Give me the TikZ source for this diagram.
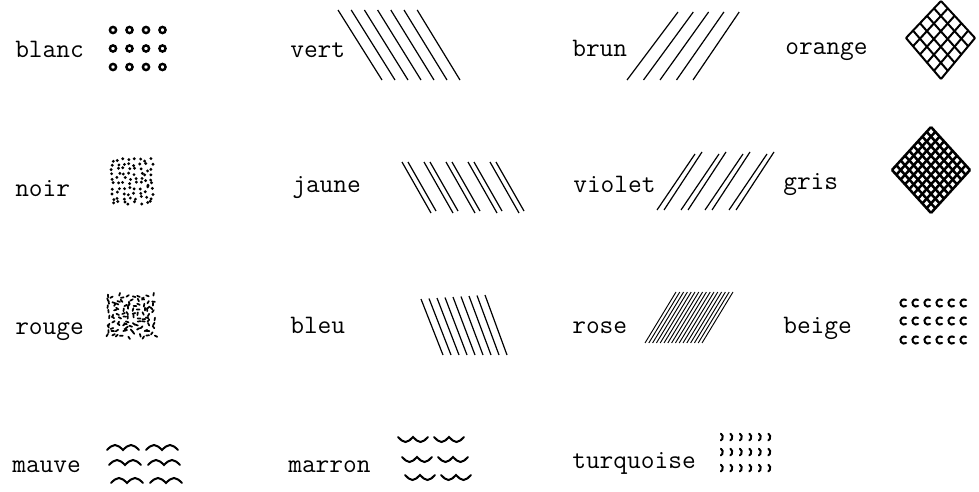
\documentclass[tikz,border=0pt]{standalone}
\usepackage{fontspec}
\usetikzlibrary{calc}

\begin{document}
\begin{tikzpicture}[x=0.75pt,y=-0.75pt,
  lbl/.style={font=\ttfamily\fontsize{20}{24}\selectfont,inner sep=0pt,anchor=base west},
  hatch/.style={line width=0.9pt},
  finehatch/.style={line width=0.7pt},
  mesh/.style={line width=1.5pt},
  glyph/.style={line width=1.5pt,line cap=round},
  blob/.style={line width=1.3pt,line cap=round},
  dotring/.style={line width=1.8pt}]
\useasboundingbox (0,0) rectangle (979,492);
% labels
\node[lbl] (blanc) at (15,58) {blanc};
\node[lbl] (vert) at (290,58) {vert};
\node[lbl] (brun) at (572,57) {brun};
\node[lbl] (orange) at (785,55) {orange};
\node[lbl] (noir) at (15,196) {noir};
\node[lbl] (jaune) at (292,192) {jaune};
\node[lbl] (violet) at (573,192) {violet};
\node[lbl] (gris) at (783,190) {gris};
\node[lbl] (rouge) at (15,334) {rouge};
\node[lbl] (bleu) at (290,333) {bleu};
\node[lbl] (rose) at (572,333) {rose};
\node[lbl] (beige) at (783,333) {beige};
\node[lbl] (mauve) at (12,472) {mauve};
\node[lbl] (marron) at (288,472) {marron};
\node[lbl] (turquoise) at (572,468) {turquoise};
% blanc
\foreach \c in {0,...,3}
  \foreach \r in {0,1,2}
    \draw[dotring] (113+\c*16.5,30+\r*18.5) circle (3.1);
% vert
\foreach \i in {0,...,6} \draw[hatch] (338+\i*13.2,10) -- (382+\i*13,80);
% brun
\foreach \i in {0,...,4} \draw[hatch] (627+\i*16.5,80) -- (678+\i*15.3,12);
% orange
\coordinate (oT) at (941,1); \coordinate (oR) at (975,38);
\coordinate (oB) at (941,79); \coordinate (oL) at (906,38);
\foreach \k in {0,...,5}{
  \draw[mesh] ($(oL)!\k/5!(oB)$) -- ($(oT)!\k/5!(oR)$);
  \draw[mesh] ($(oL)!\k/5!(oT)$) -- ($(oB)!\k/5!(oR)$);
}
% noir
\pgfmathsetseed{11}
\foreach \c in {0,...,7}
  \foreach \r in {0,...,9}{
    \pgfmathsetmacro\px{111+\c*5.6+3.5*rnd}
    \pgfmathsetmacro\py{158+\r*4.8+3.5*rnd}
    \fill (\px,\py) circle (1.6);
  }
% jaune
\foreach \i in {0,...,4}{
  \draw[hatch] (402+\i*22,162) -- (431+\i*22,213);
  \draw[hatch] (408+\i*22,162) -- (436+\i*22,211);
}
% violet
\foreach \i in {0,...,3}{
  \draw[hatch] (657+\i*24,210) -- (695+\i*24,154);
  \draw[hatch] (664+\i*24,210) -- (702+\i*24,152);
}
% gris
\coordinate (gT) at (931,127); \coordinate (gR) at (970,170);
\coordinate (gB) at (931,213); \coordinate (gL) at (892,170);
\foreach \k in {0,...,9}{
  \draw[mesh,line width=1.9pt] ($(gL)!\k/9!(gB)$) -- ($(gT)!\k/9!(gR)$);
  \draw[mesh,line width=1.9pt] ($(gL)!\k/9!(gT)$) -- ($(gB)!\k/9!(gR)$);
}
% rouge
\foreach \c in {0,...,9}
  \foreach \r in {0,...,9}{
    \pgfmathsetmacro\px{107+\c*5+3*rnd}
    \pgfmathsetmacro\py{295+\r*4.3+3*rnd}
    \pgfmathsetmacro\pa{360*rnd}
    \draw[blob] (\px,\py) -- ++(\pa:2.8);
  }
% bleu
\foreach \i in {0,...,8} \draw[hatch] (421+\i*8,299-\i*0.5) -- (443+\i*8,355);
% rose
\foreach \i in {0,...,15} \draw[finehatch] (645+\i*3.8,343) -- (676+\i*3.8,292);
% beige
\foreach \yy in {303,321,340}
  \foreach \c in {0,...,5}
    \draw[glyph] (904+\c*12,\yy) ++(55:3.6) arc[start angle=55,end angle=305,radius=3.6];
% mauve
\foreach \yy/\xx in {450/107,465/109,483/111}
  \foreach \u in {0,1}
    \draw[glyph] (\xx+\u*39,\yy) sin (\xx+\u*39+8,\yy-5) cos (\xx+\u*39+16,\yy)
      sin (\xx+\u*39+24,\yy-5) cos (\xx+\u*39+32,\yy);
% marron
\foreach \yy/\xx in {437/398,457/402,475/405}
  \foreach \u in {0,1}
    \draw[glyph] (\xx+\u*36,\yy) sin (\xx+\u*36+7.5,\yy+5) cos (\xx+\u*36+15,\yy)
      sin (\xx+\u*36+22.5,\yy+5) cos (\xx+\u*36+30,\yy);
% turquoise
\foreach \yy in {437,452,468}
  \foreach \c in {0,...,5}
    \draw[glyph] (719+\c*9.5,\yy) ++(-60:3.8) arc[start angle=-60,end angle=60,radius=3.8];
\end{tikzpicture}
\end{document}
